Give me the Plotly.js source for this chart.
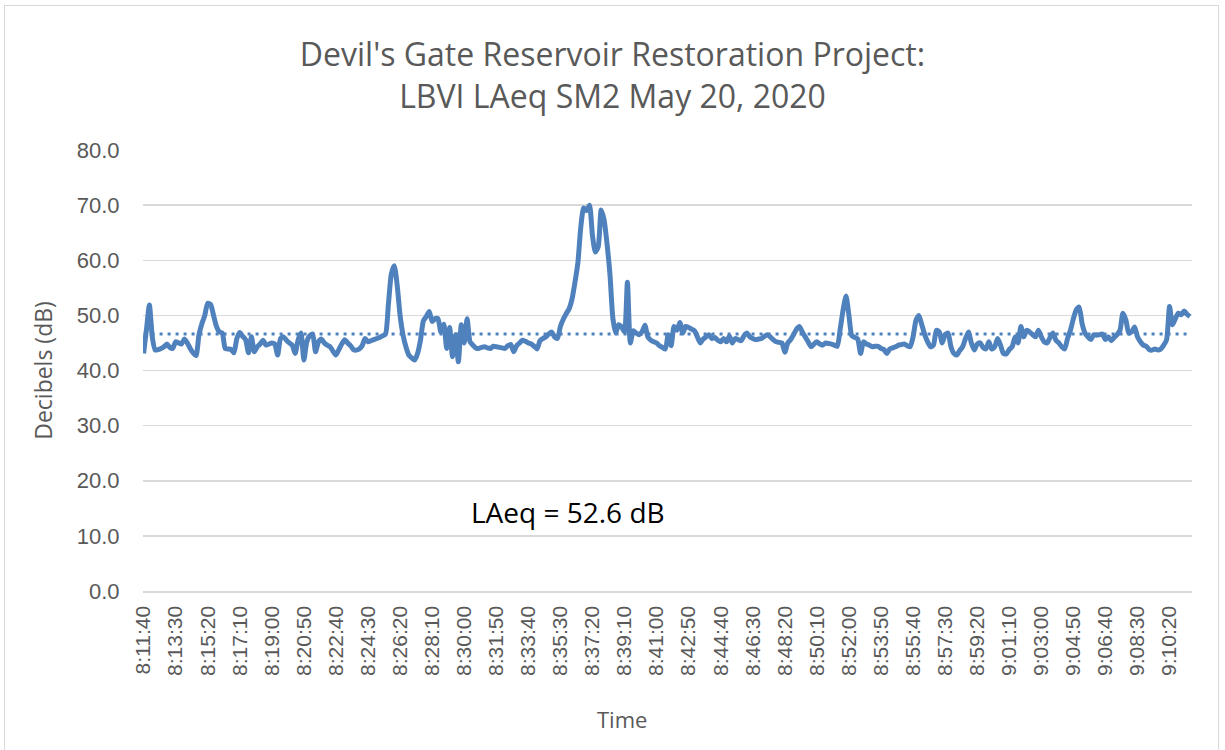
<!DOCTYPE html>
<html>
<head>
<meta charset="utf-8">
<script src="https://cdn.plot.ly/plotly-3.0.1.min.js"></script>
<style>
  body { margin: 0; background: #fff; }
  #plot { position: absolute; left: 0; top: 0; width: 1225px; height: 750px; }
  #frame { position: absolute; left: 4px; top: 5px; width: 1213px; height: 750px;
           border: 1.5px solid #d9d9d9; pointer-events: none; }
</style>
</head>
<body>
<div id="plot"></div>
<div id="frame"></div>
<script>
// LAeq readings, one every 10 seconds starting 8:11:40
let startTime = "8:11:40";
let levels = [
  43.1, 47.5, 51.9, 46.0, 43.7, 43.8, 44.0, 44.3, 44.8, 44.2,
  44.0, 45.2, 45.0, 44.8, 45.7, 45.0, 44.0, 43.2, 42.7, 46.5,
  48.5, 50.0, 52.2, 52.0, 50.0, 48.0, 47.0, 46.8, 44.0, 43.9,
  43.8, 43.2, 45.8, 46.9, 46.2, 45.6, 43.2, 46.1, 43.4, 44.3,
  44.8, 45.5, 44.6, 44.8, 45.0, 44.8, 42.8, 45.8, 46.1, 45.5,
  45.0, 44.6, 43.1, 45.5, 46.8, 41.9, 45.2, 46.3, 46.6, 43.4,
  45.2, 45.7, 45.0, 44.6, 44.3, 43.5, 42.8, 43.8, 44.8, 45.6,
  45.0, 44.5, 43.8, 43.7, 43.9, 44.5, 45.8, 45.2, 45.4, 45.6,
  45.8, 46.0, 46.3, 46.6, 52.0, 57.5, 59.0, 55.5, 50.0, 46.5,
  44.3, 42.8, 42.3, 41.9, 43.1, 45.5, 49.0, 49.8, 50.7, 48.9,
  49.4, 49.4, 47.0, 48.4, 44.0, 47.8, 42.5, 46.5, 41.6, 48.3,
  45.0, 49.4, 45.2, 44.6, 44.1, 44.0, 44.2, 44.3, 44.1, 44.0,
  44.4, 44.3, 44.2, 44.1, 44.0, 44.5, 44.7, 43.4, 44.5, 45.0,
  45.5, 45.3, 45.0, 44.8, 44.4, 43.9, 45.4, 45.8, 46.1, 46.6,
  47.0, 46.1, 45.8, 48.0, 49.3, 50.3, 51.2, 53.0, 56.0, 59.5,
  66.0, 69.5, 69.0, 70.0, 64.5, 61.5, 62.5, 69.1, 67.3, 63.0,
  57.5, 49.5, 46.8, 48.3, 47.9, 47.0, 56.0, 45.0, 47.2, 46.8,
  46.5, 47.0, 48.2, 46.1, 45.5, 45.2, 45.0, 44.5, 44.2, 43.9,
  46.5, 44.5, 48.0, 47.3, 48.7, 46.8, 48.0, 47.8, 47.5, 47.2,
  46.1, 45.0, 45.7, 46.1, 46.5, 45.8, 46.0, 45.5, 45.2, 45.8,
  45.2, 46.2, 45.0, 45.8, 45.6, 45.4, 46.3, 46.8, 46.1, 45.8,
  45.6, 45.7, 45.8, 46.2, 46.5, 46.1, 45.6, 45.2, 45.1, 45.0,
  43.3, 45.0, 45.6, 46.5, 47.5, 48.0, 47.0, 46.1, 45.2, 44.3,
  44.8, 45.2, 44.8, 44.6, 45.0, 44.9, 44.8, 44.6, 44.4, 47.5,
  51.0, 53.5, 50.0, 46.3, 46.0, 45.7, 43.1, 45.2, 44.8, 44.6,
  44.3, 44.4, 44.4, 44.0, 43.8, 43.1, 43.9, 44.1, 44.3, 44.6,
  44.7, 44.8, 44.5, 44.3, 46.1, 49.1, 50.0, 48.3, 46.5, 45.2,
  44.3, 44.6, 47.3, 47.0, 45.0, 46.5, 46.8, 44.3, 43.1, 42.8,
  43.6, 44.3, 45.8, 47.0, 45.0, 43.7, 44.8, 45.0, 44.2, 43.9,
  45.2, 43.9, 44.3, 45.8, 44.6, 43.1, 43.0, 43.8, 44.3, 46.1,
  45.0, 48.0, 46.1, 47.3, 47.0, 46.5, 46.1, 47.3, 46.1, 45.2,
  45.0, 46.0, 46.8, 45.5, 45.0, 44.3, 43.9, 45.8, 47.3, 49.4,
  51.0, 51.5, 48.5, 46.8, 46.1, 45.6, 46.5, 46.4, 46.5, 46.6,
  45.6, 46.1, 45.4, 46.0, 46.5, 47.3, 50.4, 49.2, 46.8, 47.0,
  47.9, 46.1, 45.2, 44.6, 44.4, 43.8, 43.7, 43.9, 43.7, 43.9,
  44.6, 45.6, 51.6, 48.3, 49.4, 50.4, 50.1, 50.8, 50.2, 49.8
];

// dotted average line level and the text note
let trendLevel = 46.6;
let noteText = "LAeq = 52.6 dB";

let tickLabels = [
  "8:11:40", "8:13:30", "8:15:20", "8:17:10", "8:19:00", "8:20:50", "8:22:40",
  "8:24:30", "8:26:20", "8:28:10", "8:30:00", "8:31:50", "8:33:40", "8:35:30",
  "8:37:20", "8:39:10", "8:41:00", "8:42:50", "8:44:40", "8:46:30", "8:48:20",
  "8:50:10", "8:52:00", "8:53:50", "8:55:40", "8:57:30", "8:59:20", "9:01:10",
  "9:03:00", "9:04:50", "9:06:40", "9:08:30", "9:10:20"
];

// build the time categories (10 s steps)
function toSec(t) {
  let p = t.split(":").map(Number);
  return p[0] * 3600 + p[1] * 60 + p[2];
}
function toLabel(s) {
  let h = Math.floor(s / 3600), m = Math.floor((s % 3600) / 60), sec = s % 60;
  return h + ":" + String(m).padStart(2, "0") + ":" + String(sec).padStart(2, "0");
}
let times = levels.map((v, i) => toLabel(toSec(startTime) + i * 10));

let blue = "#4f81bd";
let grey = "#595959";

let trace1 = {
  x: times,
  y: levels,
  type: "scatter",
  mode: "lines",
  line: { color: blue, width: 5, shape: "spline", smoothing: 0.6 },
  hoverinfo: "x+y"
};

// flat trend line across the whole period
let trace2 = {
  x: times,
  y: times.map(() => trendLevel),
  type: "scatter",
  mode: "lines",
  line: { color: blue, width: 3, dash: "3px,5px" },
  hoverinfo: "skip"
};

let layout = {
  width: 1225,
  height: 750,
  paper_bgcolor: "#fff",
  plot_bgcolor: "#fff",
  showlegend: false,
  margin: { l: 143, r: 33, t: 150, b: 159, pad: 0 },
  font: { family: "Liberation Sans, Arial, sans-serif", color: grey },
  title: {
    text: "Devil's Gate Reservoir Restoration Project:<br>LBVI LAeq SM2 May 20, 2020",
    font: { family: "Open Sans, sans-serif", size: 32, color: grey },
    x: 0.5, xref: "container", xanchor: "center",
    y: 0.912, yref: "container", yanchor: "middle"
  },
  xaxis: {
    type: "category",
    range: [-0.2, 359.7],
    tickmode: "array",
    tickvals: tickLabels,
    ticktext: tickLabels,
    tickangle: -90,
    ticks: "outside",
    ticklen: 5,
    tickcolor: "rgba(0,0,0,0)",
    tickfont: { size: 21, color: grey },
    showgrid: false,
    showline: true,
    linecolor: "#d9d9d9",
    linewidth: 1.5,
    zeroline: false
  },
  yaxis: {
    range: [0, 80],
    dtick: 10,
    tickformat: ".1f",
    ticks: "outside",
    ticklen: 18,
    tickcolor: "rgba(0,0,0,0)",
    tickfont: { size: 22, color: grey },
    showgrid: true,
    gridcolor: "#d9d9d9",
    gridwidth: 1.5,
    zeroline: false,
    showline: false
  },
  annotations: [
    {
      text: "Decibels (dB)",
      xref: "paper", yref: "paper",
      x: -0.096, y: 0.5,
      xanchor: "center", yanchor: "middle",
      textangle: -90,
      showarrow: false,
      font: { family: "Open Sans, sans-serif", size: 23, color: grey }
    },
    {
      text: "Time",
      xref: "paper", yref: "paper",
      x: 0.4565, y: -0.29,
      xanchor: "center", yanchor: "middle",
      showarrow: false,
      font: { family: "Open Sans, sans-serif", size: 22, color: grey }
    },
    {
      text: noteText,
      xref: "paper", yref: "paper",
      x: 0.405, y: 0.179,
      xanchor: "center", yanchor: "middle",
      showarrow: false,
      font: { family: "Open Sans, sans-serif", size: 28, color: "#000" }
    }
  ]
};

Plotly.newPlot("plot", [trace1, trace2], layout, { staticPlot: true });
</script>
</body>
</html>
